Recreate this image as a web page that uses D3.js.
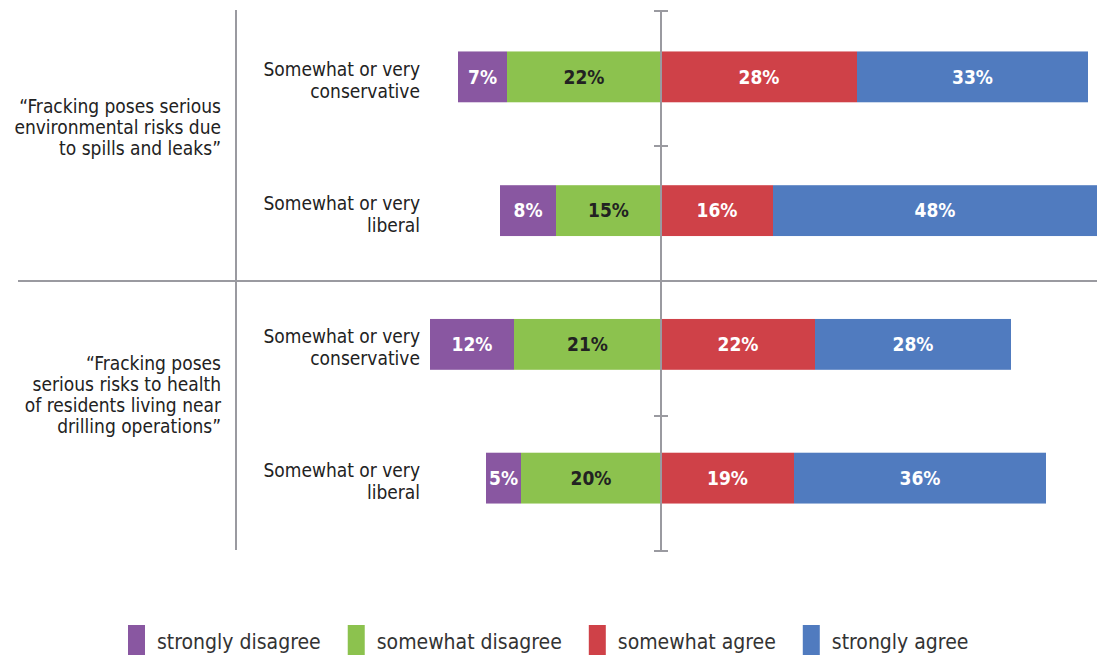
<!DOCTYPE html>
<html lang="en">
<head>
<meta charset="UTF-8">
<title>Fracking risks by ideology</title>
<script src="https://cdn.jsdelivr.net/npm/d3@7"></script>
<style>
  body { margin: 0; background: #fff; }
  svg text { font-family: "Liberation Sans Narrow", "DejaVu Sans Condensed", "Roboto", sans-serif; }
</style>
</head>
<body>
<svg id="chart" width="1097" height="655"></svg>
<script>
// data
var statements = [
  ["\u201CFracking poses serious", "environmental risks due", "to spills and leaks\u201D"],
  ["\u201CFracking poses", "serious risks to health", "of residents living near", "drilling operations\u201D"]
];
var rowLabels = [
  ["Somewhat or very", "conservative"],
  ["Somewhat or very", "liberal"],
  ["Somewhat or very", "conservative"],
  ["Somewhat or very", "liberal"]
];
var responses = ["strongly disagree", "somewhat disagree", "somewhat agree", "strongly agree"];
var stronglyDisagree = [7, 8, 12, 5];
var somewhatDisagree = [22, 15, 21, 20];
var somewhatAgree = [28, 16, 22, 19];
var stronglyAgree = [33, 48, 28, 36];

var colors = ["#8957a1", "#8cc24e", "#cf4148", "#507bbf"];
var textColors = ["#fff", "#222", "#fff", "#fff"];

var svg = d3.select("#chart");
var W = +svg.attr("width");

var x = d3.scaleLinear().domain([-60, 60]).range([241, 1081]); // 7px per point, zero at 661
var y = d3.scaleBand().domain(d3.range(4)).range([10, 545]).paddingInner(0.62).paddingOuter(0.31);
var tickY = d3.scaleLinear().domain([0, 4]).range([11, 551]);

// stack: disagree to the left of zero, agree to the right
var rows = d3.range(4).map(function (i) {
  var segs = [];
  segs.push({ k: 0, x0: -somewhatDisagree[i] - stronglyDisagree[i], x1: -somewhatDisagree[i], v: stronglyDisagree[i] });
  segs.push({ k: 1, x0: -somewhatDisagree[i], x1: 0, v: somewhatDisagree[i] });
  segs.push({ k: 2, x0: 0, x1: somewhatAgree[i], v: somewhatAgree[i] });
  segs.push({ k: 3, x0: somewhatAgree[i], x1: somewhatAgree[i] + stronglyAgree[i], v: stronglyAgree[i] });
  return { i: i, segs: segs };
});

var gRows = svg.selectAll(".row").data(rows).enter().append("g")
  .attr("class", "row")
  .attr("transform", function (d) { return "translate(0," + y(d.i) + ")"; });

gRows.selectAll("rect").data(function (d) { return d.segs; }).enter().append("rect")
  .attr("x", function (d) { return x(d.x0); })
  .attr("width", function (d) { return x(d.x1) - x(d.x0); })
  .attr("y", 0)
  .attr("height", y.bandwidth())
  .attr("fill", function (d) { return colors[d.k]; });

gRows.selectAll(".val").data(function (d) { return d.segs; }).enter().append("text")
  .attr("class", "val")
  .attr("x", function (d) { return (x(d.x0) + Math.min(x(d.x1), W)) / 2; })
  .attr("y", y.bandwidth() / 2)
  .attr("dy", "0.36em")
  .attr("text-anchor", "middle")
  .attr("font-size", 19)
  .attr("font-weight", "bold")
  .attr("fill", function (d) { return textColors[d.k]; })
  .text(function (d) { return d.v + "%"; });

// row labels
gRows.append("text")
  .attr("text-anchor", "end")
  .attr("font-size", 19)
  .attr("fill", "#222")
  .selectAll("tspan").data(function (d) { return rowLabels[d.i]; }).enter().append("tspan")
  .attr("x", 420)
  .attr("y", function (d, j) { return y.bandwidth() / 2 - 1 + j * 22; })
  .text(function (d) { return d; });

// statement labels
statements.forEach(function (lines, s) {
  var mid = (y(s * 2) + y(s * 2 + 1) + y.bandwidth()) / 2 - 17;
  var top = mid - (lines.length - 1) * 21 / 2 + 7;
  svg.append("text")
    .attr("text-anchor", "end")
    .attr("font-size", 19)
    .attr("fill", "#222")
    .selectAll("tspan").data(lines).enter().append("tspan")
    .attr("x", 221)
    .attr("y", function (d, j) { return top + j * 21; })
    .text(function (d) { return d; });
});

// grid lines
var lineColor = "#9a9aa0";
svg.append("line").attr("x1", 236).attr("x2", 236).attr("y1", 10).attr("y2", 550)
  .attr("stroke", lineColor).attr("stroke-width", 2);
svg.append("line").attr("x1", 18).attr("x2", W).attr("y1", tickY(2)).attr("y2", tickY(2))
  .attr("stroke", lineColor).attr("stroke-width", 2);

// center axis
var axis = svg.append("g").attr("transform", "translate(" + x(0) + ",0)");
axis.append("line").attr("y1", tickY(0)).attr("y2", tickY(4))
  .attr("stroke", lineColor).attr("stroke-width", 2);
axis.selectAll(".tk").data(d3.range(5)).enter().append("line")
  .attr("x1", -7).attr("x2", 7)
  .attr("y1", function (d) { return tickY(d); })
  .attr("y2", function (d) { return tickY(d); })
  .attr("stroke", lineColor).attr("stroke-width", 2);

// legend
var lx = 128;
responses.forEach(function (r, k) {
  var g = svg.append("g").attr("transform", "translate(" + lx + ",625)");
  g.append("rect").attr("width", 17).attr("height", 30).attr("fill", colors[k]);
  var t = g.append("text").attr("x", 29).attr("y", 24)
    .attr("font-size", 21).attr("fill", "#333").text(r);
  lx += 29 + t.node().getComputedTextLength() + 27;
});
</script>
</body>
</html>
